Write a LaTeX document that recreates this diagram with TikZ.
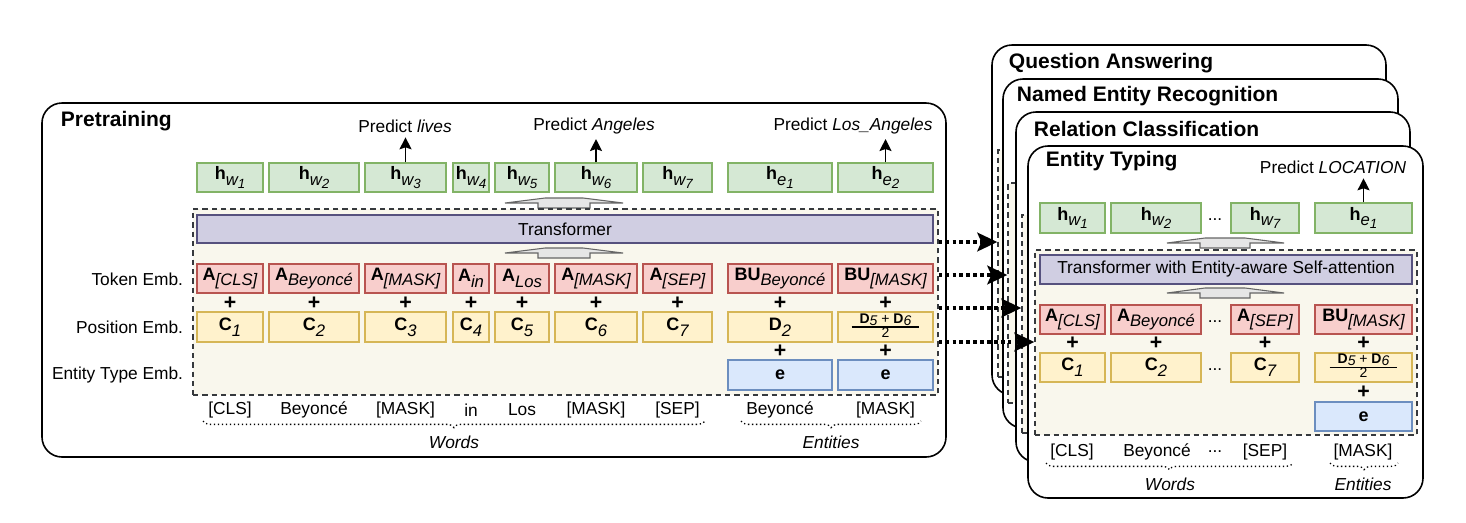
\documentclass[tikz,border=0pt]{standalone}
\usepackage{fontspec}
\setmainfont{Liberation Sans}
\usetikzlibrary{arrows.meta,fit,decorations.pathreplacing}

\definecolor{hfill}{HTML}{D5E8D4}
\definecolor{hline}{HTML}{82B366}
\definecolor{afill}{HTML}{F8CECC}
\definecolor{aline}{HTML}{B85450}
\definecolor{cfill}{HTML}{FFF2CC}
\definecolor{cline}{HTML}{D6B656}
\definecolor{efill}{HTML}{DAE8FC}
\definecolor{eline}{HTML}{6C8EBF}
\definecolor{tfill}{HTML}{D0CEE2}
\definecolor{tline}{HTML}{56517E}
\definecolor{embfill}{HTML}{F9F7ED}
\definecolor{embline}{HTML}{36393D}
\definecolor{fatfill}{HTML}{E6E6E6}
\definecolor{fatline}{HTML}{666666}

\newcommand{\hsub}[2]{\textbf{h}\raisebox{-0.6ex}{\fontsize{12.5}{12}\selectfont\itshape #1\raisebox{-0.35ex}{\fontsize{10}{10}\selectfont #2}}}
\newcommand{\embsub}[2]{\textbf{#1}\raisebox{-0.6ex}{\fontsize{12.5}{13}\selectfont\itshape #2}}
\newcommand{\davg}{{\fontsize{10.5}{11}\selectfont\setlength{\tabcolsep}{6pt}\setlength{\arrayrulewidth}{0.9pt}\renewcommand{\arraystretch}{0.72}\begin{tabular}{c}\textbf{D}\raisebox{-0.3ex}{\itshape 5} + \textbf{D}\raisebox{-0.3ex}{\itshape 6}\\\hline 2\end{tabular}}}

\tikzset{every picture/.style={line width=0.75pt}}
\tikzset{
  txt/.style={font=\fontsize{13}{15}\selectfont},
  title/.style={font=\fontsize{15.75}{18}\selectfont\bfseries, anchor=west},
  panel/.style={draw, fill=white, line width=1.2pt, rounded corners=15pt},
  box/.style={draw, line width=1pt, inner sep=0pt},
  boxlab/.style={font=\fontsize{13.5}{16}\selectfont, inner sep=0pt},
  trlab/.style={font=\fontsize{13}{15}\selectfont, inner sep=0pt},
  hbox/.style={box, draw=hline, fill=hfill},
  abox/.style={box, draw=aline, fill=afill},
  cbox/.style={box, draw=cline, fill=cfill},
  ebox/.style={box, draw=eline, fill=efill},
  trbox/.style={box, draw=tline, fill=tfill},
  embbox/.style={draw=embline, fill=embfill, line width=1pt, dash pattern=on 4pt off 3pt, inner sep=0pt},
  fatarrow/.style={draw=fatline, fill=fatfill, line width=0.8pt},
  plus/.style={font=\fontsize{16}{16}\selectfont\bfseries, inner sep=0pt},
  predarrow/.style={-{Stealth[length=9pt,width=9pt,inset=1.5pt]}, line width=1.1pt},
  flowarrow/.style={-{Stealth[length=15pt,width=14pt,inset=3pt]}, line width=2.6pt, dash pattern=on 2.6pt off 2.6pt},
  wordbrace/.style={decorate, decoration={brace, mirror, amplitude=5pt}, line width=1pt, dotted}
}

\begin{document}
\begin{tikzpicture}[x=0.75pt,y=0.75pt,yscale=-1,xscale=1]
    \useasboundingbox (0,0) rectangle (1466,522);

    %Shape: Rounded Rect -- pretraining panel
    \draw[panel] (42,103) rectangle (946,457);
    \node[title] (pretrain) at (56,121) {Pretraining};

    %Shape: Rectangle -- output states
    \node[hbox, fit={(197,163) (263,192)}, label={[boxlab]center:{\hsub{w}{1}}}] (hw1) {};
    \node[hbox, fit={(269,163) (359,192)}, label={[boxlab]center:{\hsub{w}{2}}}] (hw2) {};
    \node[hbox, fit={(365,163) (446,192)}, label={[boxlab]center:{\hsub{w}{3}}}] (hw3) {};
    \node[hbox, fit={(453,163) (489,192)}, label={[boxlab]center:{\hsub{w}{4}}}] (hw4) {};
    \node[hbox, fit={(495,163) (549,192)}, label={[boxlab]center:{\hsub{w}{5}}}] (hw5) {};
    \node[hbox, fit={(555,163) (637,192)}, label={[boxlab]center:{\hsub{w}{6}}}] (hw6) {};
    \node[hbox, fit={(643,163) (712,192)}, label={[boxlab]center:{\hsub{w}{7}}}] (hw7) {};
    \node[hbox, fit={(728,163) (832,192)}, label={[boxlab]center:{\hsub{e}{1}}}] (he1) {};
    \node[hbox, fit={(838,163) (933,192)}, label={[boxlab]center:{\hsub{e}{2}}}] (he2) {};

    \node[txt] (plives) at (405,126) {Predict \textit{lives}};
    \node[txt] (pangeles) at (594,126) {Predict \textit{Angeles}};
    \node[txt] (plosangeles) at (853,126) {Predict \textit{Los\_Angeles}};

    %Straight Lines
    \draw[predarrow] (hw3.north) -- (hw3.north |- plives.south);
    \draw[predarrow] (hw6.north) -- (hw6.north |- pangeles.south);
    \draw[predarrow] (he2.north) -- (he2.north |- plosangeles.south);

    %Shape: Up Arrow
    \draw[fatarrow] (505,203) -- (545,198) -- (583,198) -- (623,203) -- (590,203) -- (590,208) -- (538,208) -- (538,203) -- cycle;

    %Shape: Rectangle -- embeddings
    \node[embbox, fit={(193,209) (938,395)}] (pemb) {};
    \node[trbox, fit={(197,215) (933,243)}, label={[trlab]center:Transformer}] (ptrans) {};

    %Shape: Up Arrow
    \draw[fatarrow] (505,253) -- (545,248) -- (583,248) -- (623,253) -- (590,253) -- (590,258) -- (538,258) -- (538,253) -- cycle;

    \node[txt, anchor=east] (ltoken) at (188,279) {Token Emb.};
    \node[txt, anchor=east] (lpos) at (188,327) {Position Emb.};
    \node[txt, anchor=east] (ltype) at (188,375) {Entity Type Emb.};

    \node[abox, fit={(197,264) (263,293)}, label={[boxlab]center:{\embsub{A}{[CLS]}}}] (a1) {};
    \node[abox, fit={(269,264) (359,293)}, label={[boxlab]center:{\embsub{A}{Beyoncé}}}] (a2) {};
    \node[abox, fit={(365,264) (446,293)}, label={[boxlab]center:{\embsub{A}{[MASK]}}}] (a3) {};
    \node[abox, fit={(453,264) (489,293)}, label={[boxlab]center:{\embsub{A}{in}}}] (a4) {};
    \node[abox, fit={(495,264) (549,293)}, label={[boxlab]center:{\embsub{A}{Los}}}] (a5) {};
    \node[abox, fit={(555,264) (637,293)}, label={[boxlab]center:{\embsub{A}{[MASK]}}}] (a6) {};
    \node[abox, fit={(643,264) (712,293)}, label={[boxlab]center:{\embsub{A}{[SEP]}}}] (a7) {};
    \node[abox, fit={(728,264) (832,293)}, label={[boxlab]center:{\embsub{BU}{Beyoncé}}}] (ae1) {};
    \node[abox, fit={(838,264) (933,293)}, label={[boxlab]center:{\embsub{BU}{[MASK]}}}] (ae2) {};

    \node[plus] (pa1) at (230,303) {+};
    \node[plus] (pa2) at (314,303) {+};
    \node[plus] (pa3) at (405.5,303) {+};
    \node[plus] (pa4) at (471,303) {+};
    \node[plus] (pa5) at (522,303) {+};
    \node[plus] (pa6) at (596,303) {+};
    \node[plus] (pa7) at (677.5,303) {+};
    \node[plus] (pae1) at (780,303) {+};
    \node[plus] (pae2) at (885.5,303) {+};

    \node[cbox, fit={(197,312) (263,342)}, label={[boxlab]center:{\embsub{C}{1}}}] (c1) {};
    \node[cbox, fit={(269,312) (359,342)}, label={[boxlab]center:{\embsub{C}{2}}}] (c2) {};
    \node[cbox, fit={(365,312) (446,342)}, label={[boxlab]center:{\embsub{C}{3}}}] (c3) {};
    \node[cbox, fit={(453,312) (489,342)}, label={[boxlab]center:{\embsub{C}{4}}}] (c4) {};
    \node[cbox, fit={(495,312) (549,342)}, label={[boxlab]center:{\embsub{C}{5}}}] (c5) {};
    \node[cbox, fit={(555,312) (637,342)}, label={[boxlab]center:{\embsub{C}{6}}}] (c6) {};
    \node[cbox, fit={(643,312) (712,342)}, label={[boxlab]center:{\embsub{C}{7}}}] (c7) {};
    \node[cbox, fit={(728,312) (832,342)}, label={[boxlab]center:{\embsub{D}{2}}}] (ce1) {};
    \node[cbox, fit={(838,312) (933,342)}, label={[boxlab]center:{\davg}}] (ce2) {};

    \node[plus] (pce1) at (780,351) {+};
    \node[plus] (pce2) at (885.5,351) {+};

    \node[ebox, fit={(728,360) (832,390)}, label={[boxlab]center:{\textbf{e}}}] (ee1) {};
    \node[ebox, fit={(838,360) (933,390)}, label={[boxlab]center:{\textbf{e}}}] (ee2) {};

    %Words
    \node[txt] (wcls) at (230,410) {[CLS]};
    \node[txt] (wbey) at (314,410) {Beyoncé};
    \node[txt] (wmask) at (405.5,410) {[MASK]};
    \node[txt] (win) at (471,410) {in};
    \node[txt] (wlos) at (522,410) {Los};
    \node[txt] (wmask2) at (596,410) {[MASK]};
    \node[txt] (wsep) at (677.5,410) {[SEP]};
    \node[txt] (wbeye) at (780,410) {Beyoncé};
    \node[txt] (wmaske) at (885.5,410) {[MASK]};

    \draw[wordbrace] (203,421) -- (705,421);
    \draw[wordbrace] (741,421) -- (921,421);
    \node[txt, font=\fontsize{13}{15}\selectfont\itshape] (lwords) at (454,442) {Words};
    \node[txt, font=\fontsize{13}{15}\selectfont\itshape] (lentities) at (831,442) {Entities};

    %Shape: Rounded Rect -- task panels
    \draw[panel] (992,45) rectangle (1386,395);
    \node[title] (tqa) at (1004,63) {Question Answering};
    \node[embbox, fit={(998,150) (1380,377)}] (qaemb) {};

    \draw[panel] (1003,79) rectangle (1398,428);
    \node[title] (tner) at (1012,96) {Named Entity Recognition};
    \node[embbox, fit={(1008,183) (1392,403)}] (neremb) {};

    \draw[panel] (1016,112) rectangle (1410,462);
    \node[title] (trc) at (1029,129) {Relation Classification};
    \node[embbox, fit={(1022,215) (1404,433)}] (rcemb) {};

    \draw[panel] (1028,146) rectangle (1423,498);
    \node[title] (tet) at (1041,161) {Entity Typing};

    \node[txt] (ploc) at (1333,167) {Predict \textit{LOCATION}};

    \node[hbox, fit={(1040,203) (1105,233)}, label={[boxlab]center:{\hsub{w}{1}}}] (rhw1) {};
    \node[hbox, fit={(1111,203) (1201,233)}, label={[boxlab]center:{\hsub{w}{2}}}] (rhw2) {};
    \node[txt] (rhdots) at (1215,220) {...};
    \node[hbox, fit={(1231,203) (1299,233)}, label={[boxlab]center:{\hsub{w}{7}}}] (rhw7) {};
    \node[hbox, fit={(1315,203) (1412,233)}, label={[boxlab]center:{\hsub{e}{1}}}] (rhe1) {};

    \draw[predarrow] (rhe1.north) -- (rhe1.north |- ploc.south);

    \draw[fatarrow] (1167,243) -- (1205,238) -- (1245,238) -- (1284,243) -- (1250,243) -- (1250,248) -- (1200,248) -- (1200,243) -- cycle;

    \node[embbox, fit={(1035,250) (1417,435)}] (etemb) {};
    \node[trbox, fit={(1040,255) (1412,284)}, label={[trlab]center:Transformer with Entity-aware Self-attention}] (rtrans) {};

    \draw[fatarrow] (1167,293) -- (1205,288) -- (1245,288) -- (1284,293) -- (1250,293) -- (1250,298) -- (1200,298) -- (1200,293) -- cycle;

    \node[abox, fit={(1040,305) (1105,334)}, label={[boxlab]center:{\embsub{A}{[CLS]}}}] (ra1) {};
    \node[abox, fit={(1111,305) (1201,334)}, label={[boxlab]center:{\embsub{A}{Beyoncé}}}] (ra2) {};
    \node[txt] (radots) at (1215,322) {...};
    \node[abox, fit={(1231,305) (1299,334)}, label={[boxlab]center:{\embsub{A}{[SEP]}}}] (ra7) {};
    \node[abox, fit={(1315,305) (1412,334)}, label={[boxlab]center:{\embsub{BU}{[MASK]}}}] (rae1) {};

    \node[plus] (rpa1) at (1072.5,343) {+};
    \node[plus] (rpa2) at (1156,343) {+};
    \node[plus] (rpa7) at (1265,343) {+};
    \node[plus] (rpae1) at (1363.5,343) {+};

    \node[cbox, fit={(1040,353) (1105,382)}, label={[boxlab]center:{\embsub{C}{1}}}] (rc1) {};
    \node[cbox, fit={(1111,353) (1201,382)}, label={[boxlab]center:{\embsub{C}{2}}}] (rc2) {};
    \node[txt] (rcdots) at (1215,370) {...};
    \node[cbox, fit={(1231,353) (1299,382)}, label={[boxlab]center:{\embsub{C}{7}}}] (rc7) {};
    \node[cbox, fit={(1315,353) (1412,382)}, label={[boxlab]center:{\davg}}] (rce1) {};

    \node[plus] (rpce1) at (1363.5,392) {+};
    \node[ebox, fit={(1315,402) (1412,431)}, label={[boxlab]center:{\textbf{e}}}] (ree1) {};

    \node[txt] (rwcls) at (1072,452) {[CLS]};
    \node[txt] (rwbey) at (1157,452) {Beyoncé};
    \node[txt] (rwdots) at (1215,452) {...};
    \node[txt] (rwsep) at (1265,452) {[SEP]};
    \node[txt] (rwmask) at (1363,452) {[MASK]};

    \draw[wordbrace] (1046,463) -- (1293,463);
    \draw[wordbrace] (1330,463) -- (1398,463);
    \node[txt, font=\fontsize{13}{15}\selectfont\itshape] (rwords) at (1170,484) {Words};
    \node[txt, font=\fontsize{13}{15}\selectfont\itshape] (rentities) at (1363,484) {Entities};

    %Straight Lines -- fine-tuning transfer
    \coordinate (y1) at (0,242);
    \coordinate (y2) at (0,275);
    \coordinate (y3) at (0,308);
    \coordinate (y4) at (0,342);
    \draw[flowarrow] (pemb.east |- y1) -- (qaemb.west |- y1);
    \draw[flowarrow] (pemb.east |- y2) -- (neremb.west |- y2);
    \draw[flowarrow] (pemb.east |- y3) -- (rcemb.west |- y3);
    \draw[flowarrow] (pemb.east |- y4) -- (etemb.west |- y4);

\end{tikzpicture}
\end{document}
